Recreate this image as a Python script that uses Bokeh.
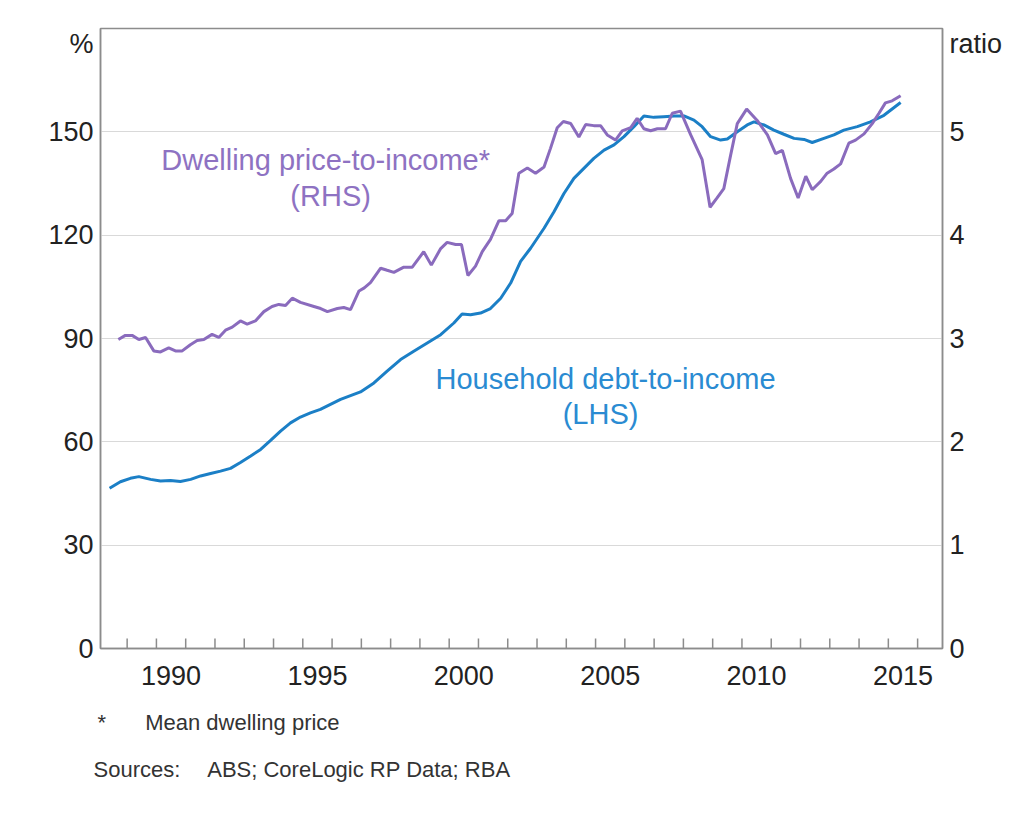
from bokeh.plotting import figure
from bokeh.models import Range1d, LinearAxis, FixedTicker, CustomJSTickFormatter, Label, Title
from bokeh.embed import file_html
from bokeh.resources import INLINE

# Household debt-to-income (LHS, %)
debt_years = [1988.40, 1988.77, 1989.11, 1989.40, 1989.80, 1990.14, 1990.48, 1990.82, 1991.17, 1991.51,
              1991.85, 1992.19, 1992.53, 1992.87, 1993.22, 1993.56, 1993.90, 1994.24, 1994.58, 1994.92,
              1995.26, 1995.60, 1996.29, 1996.97, 1997.43, 1997.88, 1998.34, 1998.79, 1999.25, 1999.71,
              2000.16, 2000.44, 2000.73, 2001.07, 2001.41, 2001.76, 2002.10, 2002.44, 2002.78, 2003.24,
              2003.58, 2003.92, 2004.26, 2004.60, 2004.94, 2005.29, 2005.63, 2005.97, 2006.31, 2006.65,
              2006.99, 2007.33, 2007.68, 2008.02, 2008.36, 2008.64, 2008.93, 2009.27, 2009.50, 2009.84,
              2010.18, 2010.41, 2010.75, 2011.09, 2011.43, 2011.78, 2012.12, 2012.40, 2012.80, 2013.14,
              2013.48, 2013.94, 2014.39, 2014.85, 2015.42]
debt_values = [46.5, 48.4, 49.4, 49.9, 49.1, 48.6, 48.8, 48.5, 49.1, 50.1,
               50.8, 51.5, 52.3, 54.0, 55.9, 57.8, 60.4, 63.1, 65.5, 67.2,
               68.4, 69.4, 72.3, 74.5, 77.1, 80.5, 83.9, 86.3, 88.7, 91.1,
               94.5, 97.1, 96.9, 97.4, 98.7, 101.7, 106.1, 112.4, 116.2, 122.0,
               126.8, 132.1, 136.5, 139.4, 142.3, 144.7, 146.2, 148.6, 151.5, 154.6,
               154.2, 154.4, 154.6, 154.6, 153.4, 151.5, 148.6, 147.6, 147.9, 150.0,
               152.0, 152.9, 152.0, 150.5, 149.3, 148.1, 147.8, 146.9, 148.1, 149.1,
               150.5, 151.5, 152.9, 154.8, 158.5]

# Dwelling price-to-income (RHS, ratio)
price_years = [1988.70, 1988.94, 1989.17, 1989.40, 1989.63, 1989.91, 1990.14, 1990.42, 1990.65, 1990.88,
               1991.16, 1991.39, 1991.62, 1991.90, 1992.13, 1992.36, 1992.59, 1992.87, 1993.10, 1993.38,
               1993.67, 1993.95, 1994.18, 1994.41, 1994.64, 1994.92, 1995.38, 1995.61, 1995.84, 1996.18,
               1996.40, 1996.63, 1996.92, 1997.10, 1997.31, 1997.66, 1997.88, 1998.11, 1998.45, 1998.74,
               1999.13, 1999.39, 1999.71, 1999.93, 2000.22, 2000.42, 2000.64, 2000.90, 2001.13, 2001.41,
               2001.70, 2001.93, 2002.15, 2002.38, 2002.67, 2002.95, 2003.24, 2003.46, 2003.69, 2003.90,
               2004.15, 2004.43, 2004.66, 2004.94, 2005.17, 2005.40, 2005.68, 2005.91, 2006.20, 2006.42,
               2006.65, 2006.88, 2007.11, 2007.39, 2007.62, 2007.90, 2008.25, 2008.64, 2008.91, 2009.15,
               2009.38, 2009.61, 2009.84, 2010.16, 2010.52, 2010.87, 2011.15, 2011.38, 2011.66, 2011.92,
               2012.18, 2012.40, 2012.69, 2012.91, 2013.14, 2013.37, 2013.65, 2013.88, 2014.17, 2014.45,
               2014.68, 2014.90, 2015.13, 2015.42]
price_ratio = [2.99, 3.03, 3.03, 2.99, 3.01, 2.88, 2.87, 2.91, 2.88, 2.88,
               2.94, 2.98, 2.99, 3.04, 3.01, 3.08, 3.11, 3.17, 3.14, 3.17,
               3.26, 3.31, 3.33, 3.32, 3.39, 3.35, 3.31, 3.29, 3.26, 3.29,
               3.30, 3.28, 3.46, 3.49, 3.54, 3.68, 3.66, 3.64, 3.69, 3.69,
               3.84, 3.71, 3.87, 3.93, 3.91, 3.91, 3.61, 3.70, 3.84, 3.96,
               4.14, 4.14, 4.21, 4.60, 4.65, 4.60, 4.66, 4.84, 5.04, 5.10,
               5.08, 4.95, 5.07, 5.06, 5.06, 4.97, 4.92, 5.01, 5.04, 5.13,
               5.03, 5.01, 5.03, 5.03, 5.18, 5.20, 4.97, 4.73, 4.27, 4.36,
               4.45, 4.77, 5.08, 5.22, 5.11, 4.97, 4.79, 4.82, 4.55, 4.36,
               4.57, 4.44, 4.52, 4.60, 4.64, 4.69, 4.89, 4.92, 4.98, 5.08,
               5.18, 5.28, 5.30, 5.35]

assert len(debt_years) == len(debt_values)
assert len(price_years) == len(price_ratio)

left_ticks = [0, 30, 60, 90, 120, 150]
right_ticks = [0, 1, 2, 3, 4, 5]
left_unit, right_unit = "%", "ratio"
year_label_ticks = [1990.5, 1995.5, 2000.5, 2005.5, 2010.5, 2015.5]
year_boundary_ticks = list(range(1989, 2017))
footnote = "*\u2003\u2002 Mean dwelling price"
sources = "Sources:\u2003 ABS; CoreLogic RP Data; RBA"

FONT = "Liberation Sans"
AXIS_GREY = "#8c8c8c"
TICK_TEXT = "#222222"
NOTE_TEXT = "#333333"
BLUE = "#1b7fc6"
BLUE_TEXT = "#2a8bd2"
PURPLE = "#8a6bbd"
PURPLE_TEXT = "#8e72c2"
TICK_LEN = 2.9  # year-tick length in LHS units (about 10 px)

p = figure(frame_width=842, frame_height=620,
           min_border_left=100, min_border_right=70, min_border_top=28, min_border_bottom=160,
           x_range=Range1d(1988.09, 2016.85), y_range=Range1d(0, 180),
           output_backend="svg", toolbar_location=None)
p.extra_y_ranges = {"ratio": Range1d(0, 6)}

p.outline_line_color = AXIS_GREY
p.outline_line_width = 1.5
p.xgrid.grid_line_color = None
p.ygrid.ticker = FixedTicker(ticks=left_ticks[1:])
p.ygrid.grid_line_color = "#d9d9d9"
p.ygrid.grid_line_width = 1.2

# x axis: labels centred within each year
xa = p.xaxis[0]
xa.ticker = FixedTicker(ticks=year_label_ticks)
xa.formatter = CustomJSTickFormatter(code="return String(Math.floor(tick));")
xa.major_tick_line_color = None
xa.minor_tick_line_color = None
xa.axis_line_color = AXIS_GREY
xa.axis_line_width = 1.5
xa.major_label_text_font = FONT
xa.major_label_text_font_size = "27px"
xa.major_label_text_color = TICK_TEXT
xa.major_label_standoff = 11

# year-boundary tick marks pointing up into the plot
p.segment(x0=year_boundary_ticks, y0=[0] * len(year_boundary_ticks),
          x1=year_boundary_ticks, y1=[TICK_LEN] * len(year_boundary_ticks),
          line_color=AXIS_GREY, line_width=1.5)

# left axis (unit label "%" as an extra tick near the top)
ya = p.yaxis[0]
ya.ticker = FixedTicker(ticks=left_ticks + [175.6])
ya.formatter = CustomJSTickFormatter(code="return tick > 170 ? '%s' : String(tick);" % left_unit)
ya.major_tick_in = 0
ya.major_tick_out = 0
ya.minor_tick_line_color = None
ya.axis_line_color = AXIS_GREY
ya.axis_line_width = 1.5
ya.major_label_text_font = FONT
ya.major_label_text_font_size = "27px"
ya.major_label_text_color = TICK_TEXT
ya.major_label_standoff = 7

# right axis (unit label "ratio" as an extra tick near the top)
ra = LinearAxis(y_range_name="ratio", ticker=FixedTicker(ticks=right_ticks + [5.85]))
ra.formatter = CustomJSTickFormatter(code="return tick > 5.5 ? '%s' : String(tick);" % right_unit)
ra.major_tick_in = 0
ra.major_tick_out = 0
ra.minor_tick_line_color = None
ra.axis_line_color = AXIS_GREY
ra.axis_line_width = 1.5
ra.major_label_text_font = FONT
ra.major_label_text_font_size = "27px"
ra.major_label_text_color = TICK_TEXT
ra.major_label_standoff = 7
p.add_layout(ra, "right")

p.line(debt_years, debt_values, line_color=BLUE, line_width=3)
p.line(price_years, price_ratio, y_range_name="ratio", line_color=PURPLE, line_width=3)

def lab(text, x, y, color, size="29px"):
    p.add_layout(Label(x=x, y=y, text=text, text_font=FONT, text_font_size=size,
                       text_color=color, text_align="center", text_baseline="middle"))

lab("Dwelling price-to-income*", 1995.78, 141.9, PURPLE_TEXT)
lab("(RHS)", 1995.95, 131.5, PURPLE_TEXT)
lab("Household debt-to-income", 2005.34, 78.2, BLUE_TEXT)
lab("(LHS)", 2005.17, 68.1, BLUE_TEXT)

# footnotes below the axis
t1 = Title(text=footnote, align="left", offset=-3, standoff=40, text_font=FONT,
           text_font_size="22px", text_font_style="normal", text_color=NOTE_TEXT)
t2 = Title(text=sources, align="left", offset=-7, standoff=0, text_font=FONT,
           text_font_size="22px", text_font_style="normal", text_color=NOTE_TEXT)
p.add_layout(t1, "below")
p.add_layout(t2, "below")

open("out.html", "w").write(file_html(p, INLINE))
